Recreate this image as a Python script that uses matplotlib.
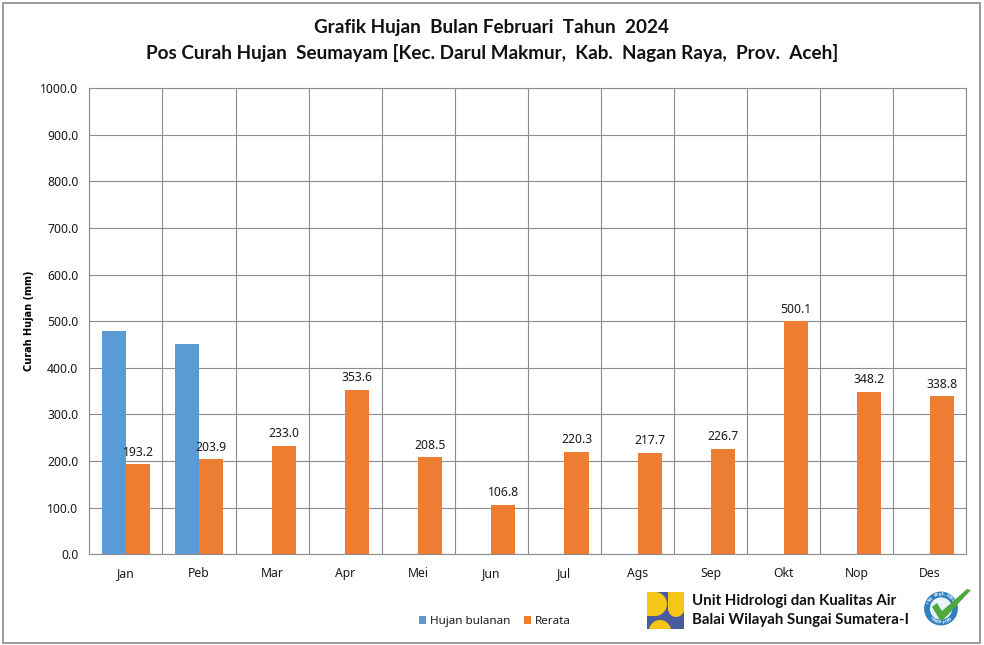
import matplotlib.pyplot as plt
import numpy as np
from matplotlib.patches import Rectangle, Circle, Polygon

W, H = 984, 645

bulan = ["Jan", "Peb", "Mar", "Apr", "Mei", "Jun", "Jul", "Ags", "Sep", "Okt", "Nop", "Des"]
hujan_bulanan = [479.6, 451.7]
rerata = [193.2, 203.9, 233.0, 353.6, 208.5, 106.8, 220.3, 217.7, 226.7, 500.1, 348.2, 338.8]
y_ticks = [0, 100, 200, 300, 400, 500, 600, 700, 800, 900, 1000]

biru = "#5B9BD5"
oranye = "#ED7D31"
abu = "#8c8c8c"
teks = "#1a1a1a"

plt.rcParams["font.family"] = ["Noto Sans", "DejaVu Sans"]

fig = plt.figure(figsize=(W / 100, H / 100), dpi=100, facecolor="white")

# bingkai luar
fig.add_artist(Rectangle((3 / W, 1 - 642.5 / H), 977 / W, 639.5 / H, transform=fig.transFigure,
                         fill=False, edgecolor="#8a8a8a", linewidth=1.2))

ax = fig.add_axes([89.4 / W, 1 - 554.3 / H, 877 / W, 466 / H])
x = np.arange(len(bulan))
lebar = 0.33
ax.bar(x[:len(hujan_bulanan)] - lebar / 2, hujan_bulanan, lebar, color=biru, zorder=3, label="Hujan bulanan")
ax.bar(x + lebar / 2, rerata, lebar, color=oranye, zorder=3, label="Rerata")

for i, v in enumerate(rerata):
    ax.annotate(f"{v:.1f}", (x[i] + lebar / 2, v), xytext=(0, 4), textcoords="offset points",
                ha="center", va="bottom", fontsize=8.8, color=teks, zorder=4)

ax.set_xlim(-0.5, len(bulan) - 0.5)
ax.set_ylim(0, 1000)
ax.set_yticks(y_ticks)
ax.set_yticklabels([f"{v:.1f}" for v in y_ticks], fontsize=8.8, color=teks)
ax.set_xticks(x)
ax.set_xticklabels(bulan, fontsize=8.8, color=teks)
ax.set_xticks(np.arange(-0.5, len(bulan)), minor=True)
ax.tick_params(axis="x", which="major", length=0, pad=9.5)
ax.tick_params(axis="x", which="minor", length=0)
ax.tick_params(axis="y", length=0, pad=8)
ax.grid(True, which="major", axis="y", color=abu, linewidth=0.8, zorder=1)
ax.grid(True, which="minor", axis="x", color=abu, linewidth=0.8, zorder=1)
for s in ax.spines.values():
    s.set_color(abu)
    s.set_linewidth(0.8)

fig.text(29.5 / W, 1 - 321 / H, "Curah Hujan (mm)", rotation=90, ha="center", va="center",
         family=["DejaVu Sans"], fontsize=7, fontweight="bold", color="black")

judul = {"family": ["Lato", "DejaVu Sans"], "fontsize": 13.6, "fontweight": "bold", "color": "#111111",
         "ha": "center", "va": "center"}
fig.text(492 / W, 1 - 27 / H, "Grafik Hujan  Bulan Februari  Tahun  2024", **judul)
fig.text(492 / W, 1 - 53 / H, "Pos Curah Hujan  Seumayam [Kec. Darul Makmur,  Kab.  Nagan Raya,  Prov.  Aceh]", **judul)

# legenda
h, l = ax.get_legend_handles_labels()
fig.legend(h, l, loc="center", bbox_to_anchor=(495 / W, 1 - 621.5 / H), ncol=2, frameon=False,
           fontsize=8.4, handlelength=0.6, handleheight=0.6, columnspacing=1.1, handletextpad=0.4,
           labelcolor=teks)

# teks unit
unit = {"family": ["Lato", "DejaVu Sans"], "fontsize": 10.8, "fontweight": "bold", "color": "#111111",
        "ha": "left", "va": "center"}
fig.text(692 / W, 1 - 600.5 / H, "Unit Hidrologi dan Kualitas Air", **unit)
fig.text(692 / W, 1 - 620 / H, "Balai Wilayah Sungai Sumatera-I", **unit)

# logo PU dan logo ISO, koordinat piksel gambar
ov = fig.add_axes([0, 0, 1, 1], facecolor="none")
ov.set_xlim(0, W)
ov.set_ylim(H, 0)
ov.axis("off")

kuning = "#F5C518"
ungu = "#4A5A9E"
kotak = Rectangle((647, 592), 37, 37, color=ungu, lw=0)
ov.add_patch(kotak)
for p in [Circle((655, 604), 12), Rectangle((647, 592), 8, 24), Circle((660, 631), 11),
          Rectangle((668, 592), 16, 17), Circle((676, 609), 8),
          Polygon([(676, 617), (684, 609), (684, 612)])]:
    p.set(color=kuning, lw=0)
    ov.add_patch(p)
    p.set_clip_path(kotak)

biru_iso = "#2F7FC1"
pusat = (941, 608.5)
ov.add_patch(Circle(pusat, 14, fill=False, edgecolor=biru_iso, linewidth=4.2))
ov.add_patch(Circle(pusat, 10.5, facecolor="#EAF3FA", edgecolor="none"))
# tulisan melingkar pada cincin
for kata, mulai, langkah in [("ISO 9001:2008", 155, -10), ("CERTIFIED", 225, 11)]:
    for j, c in enumerate(kata):
        a = np.radians(mulai + langkah * j)
        rot = np.degrees(a) - 90 if langkah < 0 else np.degrees(a) + 90
        ov.text(pusat[0] + 14 * np.cos(a), pusat[1] - 14 * np.sin(a), c, fontsize=2.8, color="white",
                rotation=rot, ha="center", va="center", fontweight="bold", family=["DejaVu Sans"])
ov.add_patch(Polygon([(932, 607), (937, 603), (942, 611), (967, 589), (971, 590), (943, 620), (940, 620)],
                     closed=True, facecolor="#4FA83D", edgecolor="none", zorder=5))

fig.savefig("out.png", dpi=100)
